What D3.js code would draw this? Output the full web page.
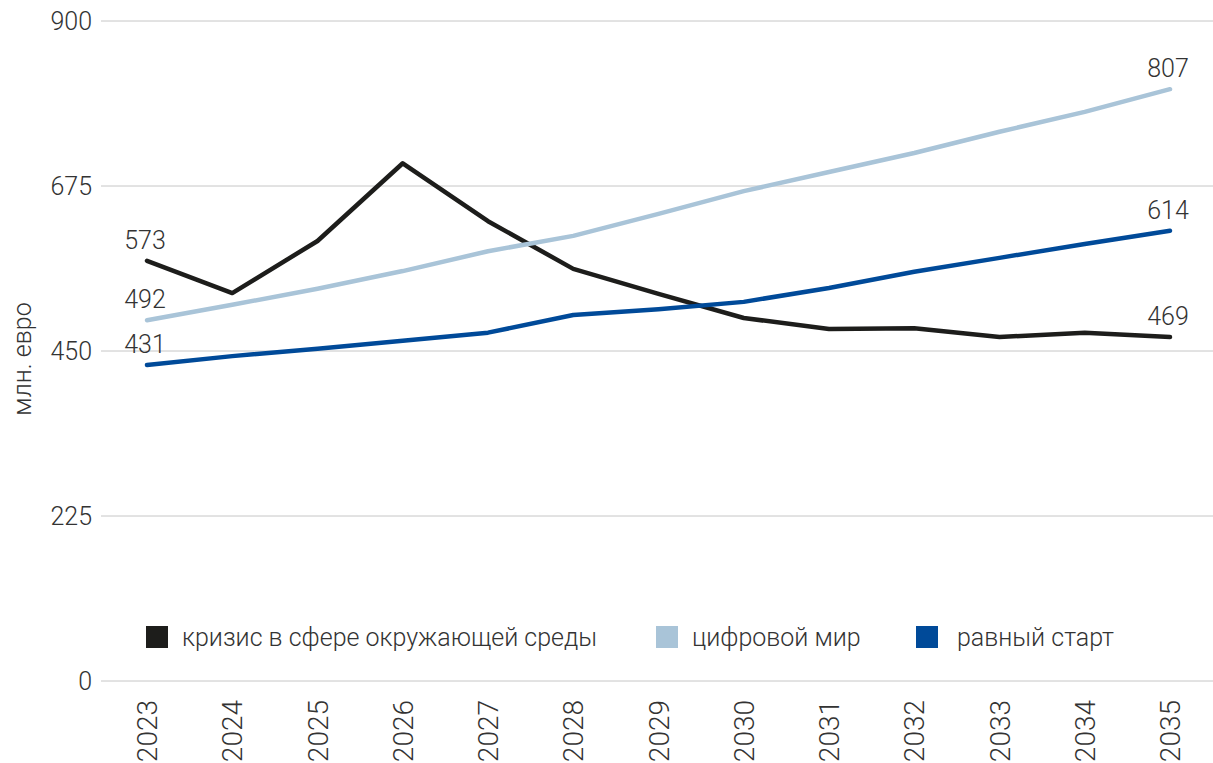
<!DOCTYPE html>
<html>
<head>
<meta charset="utf-8">
<script src="https://cdn.jsdelivr.net/npm/d3@7"></script>
<style>
  body { margin: 0; background: #fff; }
  svg text { font-family: Roboto, "Noto Sans", sans-serif; font-weight: 300; fill: #333; }
</style>
</head>
<body>
<script>
// data
var years = [2023, 2024, 2025, 2026, 2027, 2028, 2029, 2030, 2031, 2032, 2033, 2034, 2035];
var crisis = [573, 529, 600, 706, 627, 562, 528, 495, 480, 481, 469, 475, 469];
var digital = [492, 513, 535, 559, 586, 607, 637, 668, 694, 720, 749, 776, 807];
var equal = [431, 443, 453, 464, 475, 499, 507, 517, 536, 558, 577, 596, 614];
var seriesNames = ['кризис в сфере окружающей среды', 'цифровой мир', 'равный старт'];
var yTicks = [0, 225, 450, 675, 900];

var colors = ['#1d1d1b', '#a9c4d8', '#004a99'];
var series = [crisis, digital, equal];

var width = 1213, height = 763;

var svg = d3.select('body').append('svg')
    .attr('width', width)
    .attr('height', height);

var x = d3.scalePoint()
    .domain(years)
    .range([147, 1170]);

var y = d3.scaleLinear()
    .domain([0, 900])
    .range([681, 21]);

// gridlines
svg.append('g')
    .selectAll('line')
    .data(yTicks)
    .enter().append('line')
    .attr('x1', 101)
    .attr('x2', width)
    .attr('y1', d => y(d))
    .attr('y2', d => y(d))
    .attr('stroke', '#c6c6c6')
    .attr('stroke-width', 1);

// y tick labels
svg.append('g')
    .selectAll('text')
    .data(yTicks)
    .enter().append('text')
    .attr('x', 92)
    .attr('y', d => y(d))
    .attr('dy', '0.35em')
    .attr('text-anchor', 'end')
    .style('font-size', '25px')
    .text(d => d);

// y axis title
svg.append('text')
    .attr('transform', 'translate(31,359) rotate(-90)')
    .attr('text-anchor', 'middle')
    .style('font-size', '25px')
    .text('млн. евро');

// x labels
svg.append('g')
    .selectAll('text')
    .data(years)
    .enter().append('text')
    .attr('transform', d => 'translate(' + (x(d) + 10) + ',700) rotate(-90)')
    .attr('text-anchor', 'end')
    .style('font-size', '28px')
    .text(d => d);

// lines
var line = d3.line()
    .x((d, i) => x(years[i]))
    .y(d => y(d));

svg.append('g')
    .selectAll('path')
    .data(series)
    .enter().append('path')
    .attr('d', line)
    .attr('fill', 'none')
    .attr('stroke', (d, i) => colors[i])
    .attr('stroke-width', 4.5)
    .attr('stroke-linecap', 'round')
    .attr('stroke-linejoin', 'round');

// end labels
series.forEach(function (s) {
    [0, s.length - 1].forEach(function (i) {
        svg.append('text')
            .attr('x', x(years[i]) - 2)
            .attr('y', y(s[i]) - 12)
            .attr('text-anchor', 'middle')
            .style('font-size', '25px')
            .text(s[i]);
    });
});

// legend
var legendX = [146, 656, 916];
var legend = svg.append('g')
    .selectAll('g')
    .data(seriesNames)
    .enter().append('g')
    .attr('transform', (d, i) => 'translate(' + legendX[i] + ',626)');

legend.append('rect')
    .attr('width', 22)
    .attr('height', 22)
    .attr('fill', (d, i) => colors[i]);

legend.append('text')
    .attr('x', (d, i) => i === 2 ? 41 : 36)
    .attr('y', 11)
    .attr('dy', '0.35em')
    .style('font-size', '25px')
    .text(d => d);
</script>
</body>
</html>
